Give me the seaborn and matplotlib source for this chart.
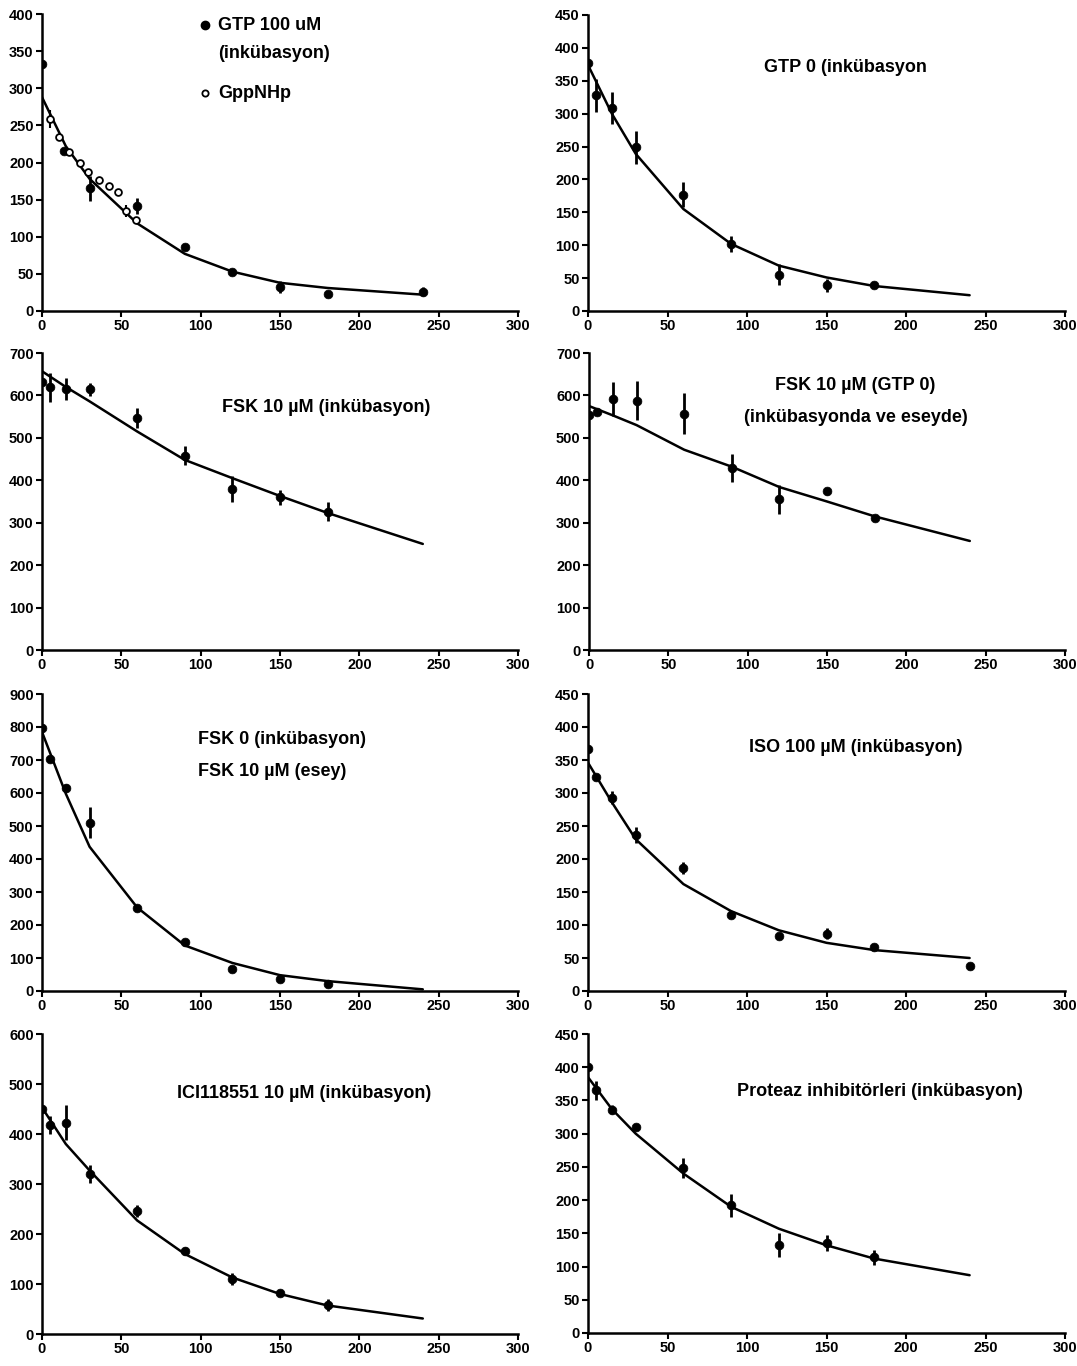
import numpy as np
import pandas as pd
import seaborn as sns
import matplotlib
matplotlib.use("Agg")
import matplotlib.pyplot as plt

sns.set_style("ticks")
plt.rcParams['font.family'] = ['Liberation Sans', 'DejaVu Sans']
plt.rcParams['font.weight'] = 'bold'

W, H = 1077, 1366

# fitted curve time points (min)
fit_t = [0, 15, 30, 60, 90, 120, 150, 180, 240]

# GTP 100 uM (filled) and GppNHp (open)
t_gtp100 = [0, 14, 30, 60, 90, 120, 150, 180, 240]
y_gtp100 = [332, 215, 165, 141, 86, 52, 32, 23, 26]
e_gtp100 = [0, 4, 17, 11, 0, 3, 8, 0, 6]
t_gpp = [5, 11, 17, 24, 29, 36, 42, 48, 53, 59]
y_gpp = [259, 234, 214, 199, 187, 177, 168, 160, 135, 122]
e_gpp = [12, 0, 0, 0, 0, 0, 0, 0, 8, 0]
fit_gtp100 = [288, 222, 178, 118, 77, 53, 38, 31, 22]

# GTP 0
t_gtp0 = [0, 5, 15, 30, 60, 90, 120, 150, 180]
y_gtp0 = [377, 328, 309, 249, 177, 102, 55, 39, 39]
e_gtp0 = [0, 25, 24, 25, 19, 12, 16, 10, 0]
fit_gtp0 = [374, 300, 239, 155, 102, 69, 51, 38, 24]

# FSK 10 uM (incubation)
t_fsk = [0, 5, 15, 30, 60, 90, 120, 150, 180]
y_fsk = [631, 619, 615, 614, 547, 458, 379, 360, 326]
e_fsk = [0, 35, 25, 16, 24, 22, 30, 18, 22]
fit_fsk = [657, 620, 586, 515, 448, 405, 363, 323, 250]

# FSK 10 uM (GTP 0)
t_fskg = [0, 5, 15, 30, 60, 90, 120, 150, 180]
y_fskg = [553, 561, 591, 588, 557, 428, 355, 374, 311]
e_fskg = [0, 0, 40, 45, 48, 33, 35, 8, 0]
fit_fskg = [575, 553, 530, 472, 432, 384, 350, 315, 257]

# FSK 0 (incubation) / FSK 10 uM (assay)
t_fsk0 = [0, 5, 15, 30, 60, 90, 120, 150, 180]
y_fsk0 = [796, 704, 616, 510, 253, 148, 67, 37, 20]
e_fsk0 = [0, 0, 12, 47, 0, 0, 0, 0, 0]
fit_fsk0 = [785, 598, 437, 253, 138, 85, 48, 30, 5]

# ISO 100 uM
t_iso = [0, 5, 15, 30, 60, 90, 120, 150, 180, 240]
y_iso = [367, 324, 293, 237, 186, 115, 83, 87, 66, 38]
e_iso = [0, 0, 10, 12, 9, 0, 0, 8, 0, 0]
fit_iso = [346, 286, 230, 162, 121, 92, 73, 62, 50]

# ICI118551 10 uM
t_ici = [0, 5, 15, 30, 60, 90, 120, 150, 180]
y_ici = [450, 419, 423, 320, 247, 167, 110, 83, 59]
e_ici = [0, 18, 35, 18, 12, 8, 12, 6, 12]
fit_ici = [453, 380, 327, 227, 160, 113, 80, 57, 31]

# protease inhibitors
t_prot = [0, 5, 15, 30, 60, 90, 120, 150, 180]
y_prot = [400, 365, 336, 310, 248, 192, 133, 136, 114]
e_prot = [0, 14, 7, 5, 15, 17, 18, 12, 11]
fit_prot = [385, 337, 300, 240, 190, 157, 132, 112, 87]

# axes boxes in pixels: left, right(x=300), top, bottom(y=0)
boxes = [
    (42, 518, 14, 311), (588, 1065, 15, 311),
    (42, 518, 353, 650), (589, 1065, 353, 650),
    (42, 518, 694, 991), (588, 1065, 694, 991),
    (42, 518, 1034, 1334), (588, 1065, 1034, 1333),
]
ymax = [400, 450, 700, 700, 900, 450, 600, 450]
ystep = [50, 50, 100, 100, 100, 50, 100, 50]

panels = [
    (t_gtp100, y_gtp100, e_gtp100, fit_gtp100),
    (t_gtp0, y_gtp0, e_gtp0, fit_gtp0),
    (t_fsk, y_fsk, e_fsk, fit_fsk),
    (t_fskg, y_fskg, e_fskg, fit_fskg),
    (t_fsk0, y_fsk0, e_fsk0, fit_fsk0),
    (t_iso, y_iso, e_iso, fit_iso),
    (t_ici, y_ici, e_ici, fit_ici),
    (t_prot, y_prot, e_prot, fit_prot),
]

fig = plt.figure(figsize=(W / 100, H / 100), dpi=100)
fig.patch.set_facecolor("white")

axes = []
for i, (l, r, t, b) in enumerate(boxes):
    ax = fig.add_axes([l / W, 1 - b / H, (r - l) / W, (b - t) / H])
    tt, yy, ee, ff = panels[i]
    fit_df = pd.DataFrame({"t": fit_t, "y": ff})
    sns.lineplot(data=fit_df, x="t", y="y", ax=ax, color="black", lw=1.8,
                 sort=False, zorder=2)
    ax.errorbar(tt, yy, yerr=ee, fmt="none", ecolor="black", elinewidth=2,
                capsize=0, zorder=3)
    pts = pd.DataFrame({"t": tt, "y": yy})
    sns.scatterplot(data=pts, x="t", y="y", ax=ax, color="black", s=40,
                    edgecolor="black", linewidth=0.5, zorder=4)
    axes.append(ax)

# open circles for GppNHp on the first panel
ax0 = axes[0]
ax0.errorbar(t_gpp, y_gpp, yerr=e_gpp, fmt="none", ecolor="black",
             elinewidth=1.5, capsize=0, zorder=3)
gpp_df = pd.DataFrame({"t": t_gpp, "y": y_gpp})
sns.scatterplot(data=gpp_df, x="t", y="y", ax=ax0, color="white", s=24,
                edgecolor="black", linewidth=1.3, zorder=5)

for i, ax in enumerate(axes):
    ax.set_xlim(0, 300)
    ax.set_ylim(0, ymax[i])
    ax.set_xticks(range(0, 301, 50))
    ax.set_yticks(range(0, ymax[i] + 1, ystep[i]))
    ax.set_xlabel("")
    ax.set_ylabel("")
    for s in ["top", "right"]:
        ax.spines[s].set_visible(False)
    for s in ["left", "bottom"]:
        ax.spines[s].set_linewidth(1.8)
        ax.spines[s].set_color("black")
    ax.tick_params(axis="both", direction="out", length=4, width=1.5,
                   labelsize=10.5, colors="black", pad=2)
    for lab in ax.get_xticklabels() + ax.get_yticklabels():
        lab.set_fontweight("bold")
    ax.set_facecolor("none")


def ftext(x, y, s, ha="left", size=13):
    fig.text(x / W, 1 - y / H, s, ha=ha, va="center", fontsize=size,
             fontweight="bold", color="black")


# legend of first panel
fig.add_artist(plt.Line2D([205 / W], [1 - 25 / H], marker="o", color="black",
                          markersize=6, linestyle="none"))
fig.add_artist(plt.Line2D([205 / W], [1 - 93 / H], marker="o", color="black",
                          markerfacecolor="white", markersize=4.5,
                          markeredgewidth=1.3, linestyle="none"))
ftext(218, 25, "GTP 100 uM")
ftext(218, 53, "(inkübasyon)")
ftext(218, 93, "GppNHp")

ftext(845, 68, "GTP 0 (inkübasyon", ha="center")
ftext(326, 408, "FSK 10 \u00b5M (inkübasyon)", ha="center")
ftext(855, 386, "FSK 10 \u00b5M (GTP 0)", ha="center")
ftext(856, 418, "(inkübasyonda ve eseyde)", ha="center")
ftext(198, 740, "FSK 0 (inkübasyon)")
ftext(198, 771, "FSK 10 \u00b5M (esey)")
ftext(856, 748, "ISO 100 \u00b5M (inkübasyon)", ha="center")
ftext(304, 1093, "ICI118551 10 \u00b5M (inkübasyon)", ha="center")
ftext(880, 1091, "Proteaz inhibitörleri (inkübasyon)", ha="center")

fig.savefig("out.png", dpi=100, facecolor="white")
